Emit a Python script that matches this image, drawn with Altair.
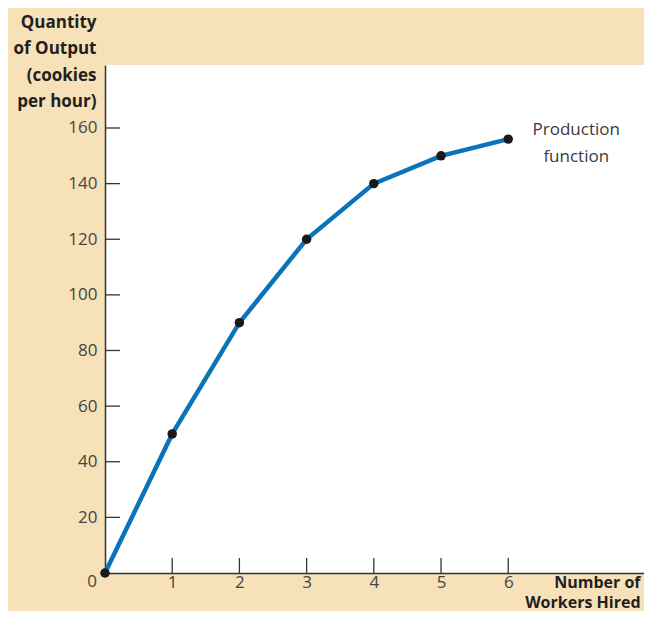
import altair as alt
import pandas as pd

workers = [0, 1, 2, 3, 4, 5, 6]
output = [0, 50, 90, 120, 140, 150, 156]
y_ticks = [20, 40, 60, 80, 100, 120, 140, 160]
x_ticks = [1, 2, 3, 4, 5, 6]
curve_label = ["Production", "function"]
y_title = ["Quantity", "of Output", "(cookies", "per hour)"]
x_title = ["Number of", "Workers Hired"]

BG = "#F6E1B9"
BLUE = "#0B73BA"
DARK = "#231F20"
FONT = "Open Sans"
LAB = "#444444"

df = pd.DataFrame({"w": workers, "q": output})
yt = pd.DataFrame({"v": y_ticks})
xt = pd.DataFrame({"v": x_ticks})
lab = pd.DataFrame({"w": [workers[-1]], "q": [output[-1]], "t": [curve_label]})
zero = pd.DataFrame({"w": [0], "q": [0], "t": ["0"]})

W, H = 539, 508
xs = alt.Scale(domain=[0, 8.02], nice=False, zero=False)
ys = alt.Scale(domain=[0, 182.65], nice=False, zero=False)

xaxis = alt.Axis(values=x_ticks, format="d", ticks=False, grid=False, domainColor="#333", domainWidth=1.5,
                 labelFont=FONT, labelFontSize=17, labelColor=LAB, labelFontWeight="normal",
                 labelBaseline="top", labelPadding=1,
                 title=x_title, titleFont=FONT, titleFontSize=16, titleFontWeight="bold",
                 titleColor=DARK, titleAngle=0, titleAlign="right", titleBaseline="alphabetic",
                 titleX=W - 4, titleY=14, titleLineHeight=20)
yaxis = alt.Axis(values=y_ticks, format="d", ticks=False, grid=False, domainColor="#333", domainWidth=1.5,
                 labelFont=FONT, labelFontSize=17, labelColor=LAB, labelFontWeight="normal",
                 labelPadding=8,
                 title=y_title, titleFont=FONT, titleFontSize=17, titleFontWeight="bold",
                 titleColor=DARK, titleAngle=0, titleAlign="right", titleBaseline="alphabetic",
                 titleX=-9, titleY=-38, titleLineHeight=26.5)

line = alt.Chart(df).mark_line(color=BLUE, strokeWidth=4.5).encode(
    x=alt.X("w:Q", scale=xs, axis=xaxis),
    y=alt.Y("q:Q", scale=ys, axis=yaxis),
)
pts = alt.Chart(df).mark_circle(color="#1a1a1a", opacity=1, size=90).encode(
    x=alt.X("w:Q", scale=xs), y=alt.Y("q:Q", scale=ys)
)
ytick = alt.Chart(yt).mark_rule(color="#333", strokeWidth=1.3).encode(
    y=alt.Y("v:Q", scale=ys), x=alt.value(0), x2=alt.value(15)
)
xtick = alt.Chart(xt).mark_rule(color="#333", strokeWidth=1.3).encode(
    x=alt.X("v:Q", scale=xs), y=alt.value(H), y2=alt.value(H - 15)
)
ann = alt.Chart(lab).mark_text(font=FONT, fontSize=17, fontWeight="normal", color="#3a3a3a",
                               align="center", baseline="alphabetic", dx=68, dy=-4,
                               lineHeight=27).encode(
    x=alt.X("w:Q", scale=xs), y=alt.Y("q:Q", scale=ys), text="t"
)
z = alt.Chart(zero).mark_text(font=FONT, fontSize=17, fontWeight="normal", color=LAB,
                              align="right", baseline="top", dx=-8, dy=1).encode(
    x=alt.X("w:Q", scale=xs), y=alt.Y("q:Q", scale=ys), text="t"
)

chart = alt.layer(ytick, xtick, line, pts, ann, z).properties(
    width=W, height=H, background=BG,
    padding={"left": 97, "top": 57, "right": 0, "bottom": 38},
    autosize=alt.AutoSizeParams(type="none"),
).configure_view(fill="white", stroke=None)

chart.save("out.html", embed_options={"renderer": "svg", "actions": False})
